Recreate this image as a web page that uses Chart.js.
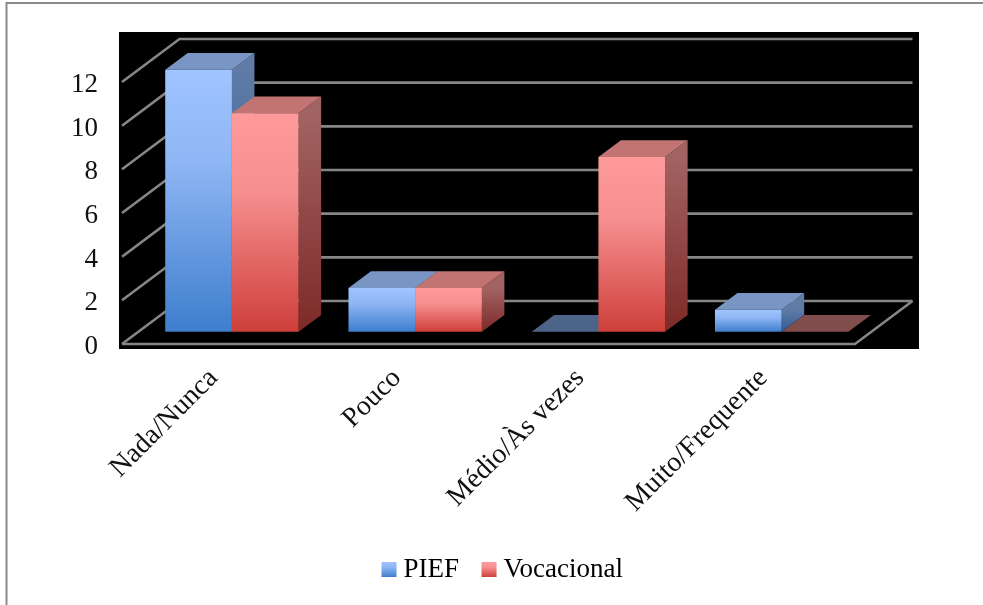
<!DOCTYPE html>
<html lang="pt">
<head>
    <meta charset="UTF-8">
    <title>PIEF / Vocacional</title>
    <script src="https://cdn.jsdelivr.net/npm/chart.js"></script>
    <style>
        html, body { margin: 0; padding: 0; background: white; }
        canvas { display: block; }
    </style>
</head>
<body>
    <canvas id="grafico" width="983" height="605"></canvas>

    <script>
        const categorias = ['Nada/Nunca', 'Pouco', 'Médio/Às vezes', 'Muito/Frequente'];
        const pief = [12, 2, 0, 1];
        const vocacional = [10, 2, 8, 0];
        const yTicks = [0, 2, 4, 6, 8, 10, 12];

        const fonte = '"Liberation Serif", serif';
        const corLinha = '#868686';

        // offsets of the fake 3D look
        const fundo = { dx: 57.5, dy: -43 };      // floor depth, front edge to back wall
        const barraPlano = { dx: 18.3, dy: -12.3 }; // where the bars stand on the floor
        const barraFundo = { dx: 22.5, dy: -16.8 }; // depth of each bar

        const azul = { alto: '#9fc4ff', meio: '#8fb6f4', baixo: '#3e7ecd', topo: '#7995c3', ladoAlto: '#5f7ba6', ladoBaixo: '#2f5a94', zero: '#4c6487' };
        const vermelho = { alto: '#ff9a9a', meio: '#f69090', baixo: '#ce3f3a', topo: '#c27473', ladoAlto: '#a26363', ladoBaixo: '#7d2a27', zero: '#814d4d' };

        function gradiente(ctx, y0, y1, cores) {
            const g = ctx.createLinearGradient(0, y0, 0, y1);
            g.addColorStop(0, cores.alto);
            g.addColorStop(0.35, cores.meio);
            g.addColorStop(1, cores.baixo);
            return g;
        }

        function corFrente(cores) {
            return c => {
                if (!c.parsed) return cores.meio;
                const y = c.chart.scales.y;
                return gradiente(c.chart.ctx, y.getPixelForValue(c.parsed.y), y.getPixelForValue(0), cores);
            };
        }

        function poligono(ctx, pontos, cor) {
            ctx.fillStyle = cor;
            ctx.beginPath();
            pontos.forEach((p, i) => i ? ctx.lineTo(p[0], p[1]) : ctx.moveTo(p[0], p[1]));
            ctx.closePath();
            ctx.fill();
        }

        const fundo3d = {
            id: 'fundo3d',
            beforeDraw(chart) {
                const { ctx, chartArea: a, scales } = chart;
                ctx.save();
                // frame of the picture, only top and left are visible
                ctx.strokeStyle = '#8a8a8a';
                ctx.lineWidth = 2;
                ctx.beginPath();
                ctx.moveTo(6.5, 605);
                ctx.lineTo(6.5, 3);
                ctx.lineTo(983, 3);
                ctx.stroke();

                ctx.fillStyle = 'black';
                ctx.fillRect(a.left - 3, a.top - 50, a.width + 67, a.height + 55);

                ctx.strokeStyle = corLinha;
                ctx.lineWidth = 2.6;
                yTicks.forEach(v => {
                    const y = scales.y.getPixelForValue(v);
                    ctx.beginPath();
                    ctx.moveTo(a.left, y);
                    ctx.lineTo(a.left + fundo.dx, y + fundo.dy);
                    ctx.lineTo(a.right + fundo.dx, y + fundo.dy);
                    ctx.stroke();
                });
                // front and right edge of the floor
                const y0 = scales.y.getPixelForValue(0);
                ctx.beginPath();
                ctx.moveTo(a.left, y0);
                ctx.lineTo(a.right, y0);
                ctx.lineTo(a.right + fundo.dx, y0 + fundo.dy);
                ctx.stroke();
                ctx.restore();
            },
            afterLayout(chart) {
                // the legend is centred on the whole picture, not on the padded box
                chart.legend.left = 29;
                chart.legend.right = 983;
            },
            beforeDatasetsDraw(chart) {
                // sides and tops first, left series before right series
                const { ctx } = chart;
                ctx.save();
                ctx.translate(barraPlano.dx, barraPlano.dy);
                chart.data.datasets.forEach((ds, idx) => {
                    const cores = idx === 0 ? azul : vermelho;
                    chart.getDatasetMeta(idx).data.forEach(el => {
                        const esq = el.x - el.width / 2, dir = el.x + el.width / 2;
                        const d = barraFundo;
                        const zero = el.y === el.base;
                        if (!zero) {
                            const g = ctx.createLinearGradient(0, el.y, 0, el.base);
                            g.addColorStop(0, cores.ladoAlto);
                            g.addColorStop(1, cores.ladoBaixo);
                            poligono(ctx, [[dir, el.y], [dir + d.dx, el.y + d.dy], [dir + d.dx, el.base + d.dy], [dir, el.base]], g);
                        }
                        poligono(ctx, [[esq, el.y], [esq + d.dx, el.y + d.dy], [dir + d.dx, el.y + d.dy], [dir, el.y]], zero ? cores.zero : cores.topo);
                    });
                });
                ctx.restore();
            },
            beforeDatasetDraw(chart) {
                chart.ctx.save();
                chart.ctx.translate(barraPlano.dx, barraPlano.dy);
            },
            afterDatasetDraw(chart) {
                chart.ctx.restore();
            },
            afterDraw(chart) {
                // legend squares sit closer to the text than Chart.js puts them
                const { ctx, legend } = chart;
                legend.legendHitBoxes.forEach((h, i) => {
                    const y = h.top + h.height / 2 - 7.5;
                    ctx.fillStyle = gradiente(ctx, y, y + 15, i === 0 ? azul : vermelho);
                    ctx.fillRect(h.left - 7.5, y, 15, 15);
                });
            }
        };

        new Chart(document.getElementById('grafico'), {
            type: 'bar',
            plugins: [fundo3d],
            data: {
                labels: categorias,
                datasets: [
                    { label: 'PIEF', data: pief, backgroundColor: corFrente(azul), clip: false },
                    { label: 'Vocacional', data: vocacional, backgroundColor: corFrente(vermelho), clip: false }
                ]
            },
            options: {
                responsive: false,
                animation: false,
                categoryPercentage: 0.728,
                barPercentage: 1,
                layout: { padding: { top: 82, right: 128, bottom: 12, left: 0 } },
                scales: {
                    x: {
                        grid: { display: false },
                        border: { display: false },
                        ticks: {
                            color: '#111',
                            font: { family: fonte, size: 28 },
                            minRotation: 45,
                            maxRotation: 45,
                            padding: 10,
                            autoSkip: false
                        },
                        afterFit(s) { s.height = 182; }
                    },
                    y: {
                        min: 0,
                        max: 12,
                        grid: { display: false },
                        border: { display: false },
                        ticks: {
                            color: '#111',
                            font: { family: fonte, size: 27 },
                            stepSize: 2,
                            padding: 16,
                            labelOffset: 3
                        },
                        afterFit(s) { s.width = 122; }
                    }
                },
                plugins: {
                    tooltip: { enabled: false },
                    legend: {
                        position: 'bottom',
                        labels: {
                            color: '#111',
                            font: { family: fonte, size: 27 },
                            boxWidth: 1,
                            boxHeight: 15,
                            padding: 30,
                            generateLabels(chart) {
                                return chart.data.datasets.map((d, i) => ({
                                    text: d.label,
                                    fillStyle: 'transparent',
                                    strokeStyle: 'transparent',
                                    lineWidth: 0,
                                    datasetIndex: i,
                                    hidden: false
                                }));
                            }
                        }
                    }
                }
            }
        });
    </script>
</body>
</html>
